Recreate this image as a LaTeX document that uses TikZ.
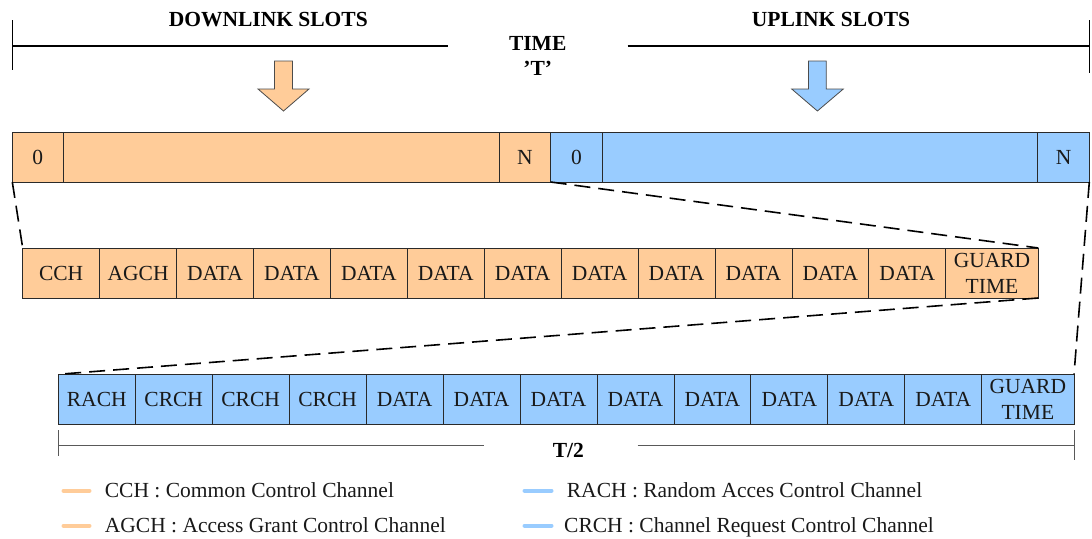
\documentclass[tikz,border=0pt]{standalone}
\usepackage{fontspec}
\setmainfont{Liberation Serif}
\definecolor{dlfill}{HTML}{FFCC99}
\definecolor{ulfill}{HTML}{99CCFF}
\definecolor{edge}{HTML}{2A2A2A}
\begin{document}
\begin{tikzpicture}[x=1pt,y=-1pt,
  font=\fontsize{21.5}{26}\selectfont,
  cellbox/.style={draw=edge, line width=0.8pt, inner sep=0pt, outer sep=0pt,
    minimum height=50pt, anchor=north west, text=black!90},
  dlcell/.style={cellbox, fill=dlfill, minimum width=76.92pt},
  ulcell/.style={cellbox, fill=ulfill, minimum width=76.95pt},
  zoomline/.style={dashed, dash pattern=on 16pt off 8pt, line width=1.6pt},
  spanline/.style={line width=1.8pt, black},
  spantick/.style={line width=1.1pt, black},
  halfline/.style={line width=1pt, black!65},
  label/.style={inner sep=0pt, anchor=base},
  keyline/.style={line width=4pt, line cap=round},
  keytext/.style={inner sep=0pt, anchor=base west, text=black!90},
  blockarrow/.style={draw=black!70, line width=0.8pt}]
\useasboundingbox (0,0) rectangle (1092,538);

% span of one frame
\coordinate (tA) at (12.3,45.7);
\coordinate (tB) at (448,45.7);
\coordinate (tC) at (627.7,45.7);
\coordinate (tD) at (1089.3,45.7);
\coordinate (tAu) at (12.3,20);
\coordinate (tAd) at (12.3,70);
\coordinate (tDu) at (1089.3,20);
\coordinate (tDd) at (1089.3,73);
\draw[spanline] (tA) -- (tB);
\draw[spanline] (tC) -- (tD);
\draw[spantick] (tAu) -- (tAd);
\draw[spantick] (tDu) -- (tDd);
\node[label, font=\fontsize{21.5}{26}\selectfont\bfseries] (dltitle) at (268.3,27) {DOWNLINK SLOTS};
\node[label, font=\fontsize{21.5}{26}\selectfont\bfseries] (ultitle) at (831,27) {UPLINK SLOTS};
\node[label, font=\fontsize{21.5}{26}\selectfont\bfseries] (timelab) at (537.7,50.7) {TIME};
\node[label, font=\fontsize{21.5}{26}\selectfont\bfseries] (tlab) at (537.7,75) {’T’};

% block arrows
\draw[blockarrow, fill=dlfill] (274.5,61) -- (292.5,61) -- (292.5,89) -- (309,89)
  -- (283.5,111) -- (258,89) -- (274.5,89) -- cycle;
\draw[blockarrow, fill=ulfill] (808.5,61) -- (826.3,61) -- (826.3,89) -- (843.3,89)
  -- (817.4,111) -- (791.7,89) -- (808.5,89) -- cycle;

% frame bar
\node[cellbox, fill=dlfill, minimum width=51pt]    (d0)   at (12.3,132)  {0};
\node[cellbox, fill=dlfill, minimum width=436pt]   (dmid) at (63.3,132)  {};
\node[cellbox, fill=dlfill, minimum width=51.4pt]  (dN)   at (499.3,132) {N};
\node[cellbox, fill=ulfill, minimum width=51.6pt]  (u0)   at (550.7,132) {0};
\node[cellbox, fill=ulfill, minimum width=435.4pt] (umid) at (602.3,132) {};
\node[cellbox, fill=ulfill, minimum width=51.6pt]  (uN)   at (1037.7,132) {N};

% downlink slot
\foreach \lab [count=\i] in {CCH,AGCH,DATA,DATA,DATA,DATA,DATA,DATA,DATA,DATA,DATA,DATA}
  \node[dlcell] (o\i) at ({22.7+(\i-1)*76.92},248) {\lab};
\node[dlcell, minimum width=92.6pt, align=center] (o13) at (945.7,248) {GUARD\\TIME};

% uplink slot
\foreach \lab [count=\i] in {RACH,CRCH,CRCH,CRCH,DATA,DATA,DATA,DATA,DATA,DATA,DATA,DATA}
  \node[ulcell] (b\i) at ({58.3+(\i-1)*76.95},374.3) {\lab};
\node[ulcell, minimum width=92.3pt, align=center] (b13) at (981.7,374.3) {GUARD\\TIME};

% zoom lines
\draw[zoomline] (d0.south west) -- (o1.north west);
\draw[zoomline] (dN.south east) -- (o13.north east);
\draw[zoomline] (o13.south east) -- (b1.north west);
\draw[zoomline] (uN.south east) -- (b13.north east);

% half frame span
\coordinate (hA) at (58.3,445);
\coordinate (hB) at (484,445);
\coordinate (hC) at (637.7,445);
\coordinate (hD) at (1074,445);
\coordinate (hAu) at (58.3,430);
\coordinate (hAd) at (58.3,456);
\coordinate (hDu) at (1074,430);
\coordinate (hDd) at (1074,460);
\draw[halfline] (hA) -- (hB);
\draw[halfline] (hC) -- (hD);
\draw[halfline] (hAu) -- (hAd);
\draw[halfline] (hDu) -- (hDd);
\node[label, font=\fontsize{21.5}{26}\selectfont\bfseries] (halflab) at (568.3,457.3) {T/2};

% key
\draw[keyline, dlfill] (63.5,490.7) -- (89.5,490.7);
\draw[keyline, dlfill] (63.5,525.7) -- (89.5,525.7);
\draw[keyline, ulfill] (524.5,490.7) -- (551.5,490.7);
\draw[keyline, ulfill] (524.5,525.7) -- (551.5,525.7);
\node[keytext] (k1) at (104.7,497.3) {CCH : Common Control Channel};
\node[keytext] (k2) at (104.7,532.5) {AGCH : Access Grant Control Channel};
\node[keytext] (k3) at (566.7,497.3) {RACH : Random Acces Control Channel};
\node[keytext] (k4) at (564,532.5) {CRCH : Channel Request Control Channel};
\end{tikzpicture}
\end{document}
